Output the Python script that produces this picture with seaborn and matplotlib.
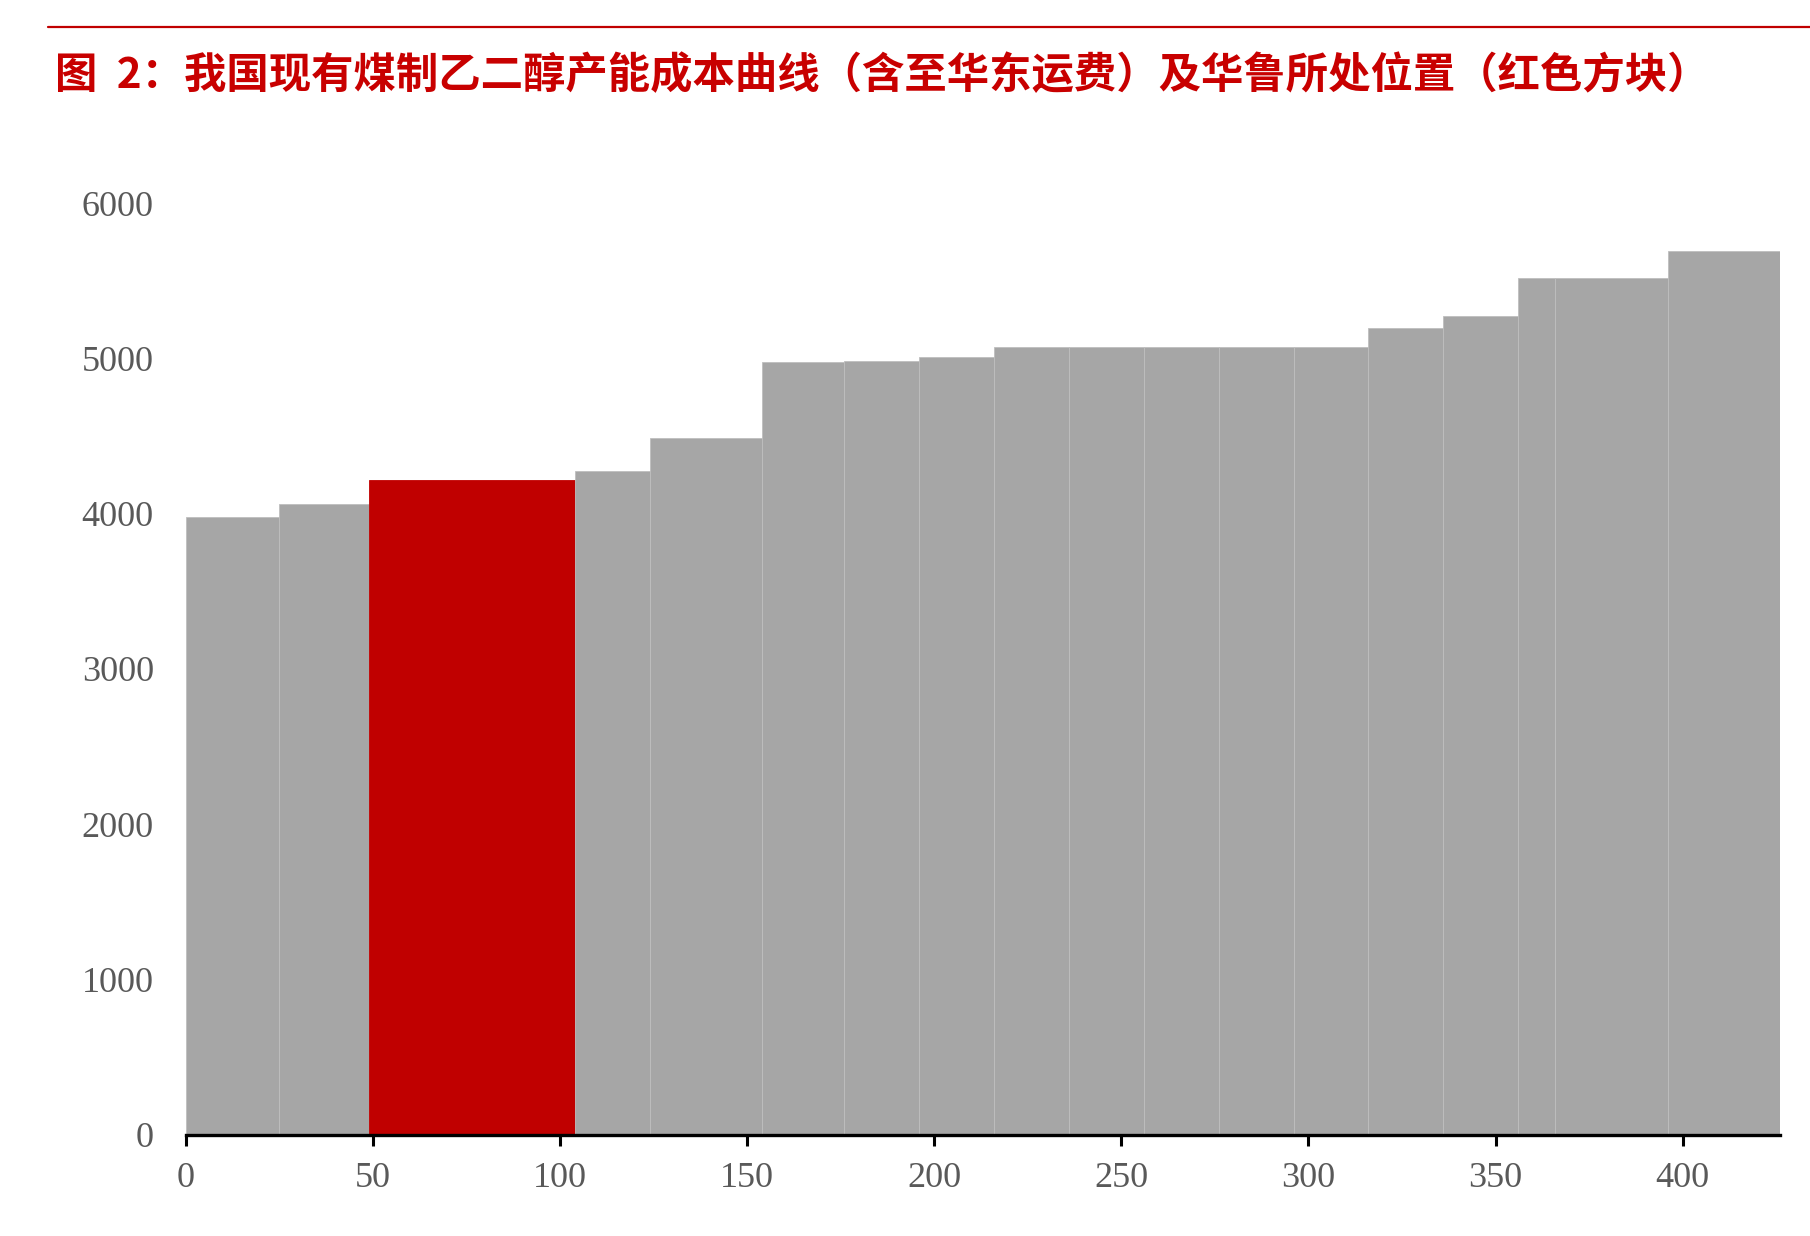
import numpy as np
import pandas as pd
import matplotlib
matplotlib.use("Agg")
import matplotlib.pyplot as plt
import seaborn as sns

# ---- data ----
capacity = [25, 24, 55, 20, 30, 22, 20, 20, 20, 20, 20, 20, 20, 20, 20, 10, 30, 30]  # 万吨
cost = [3980, 4060, 4220, 4275, 4490, 4975, 4985, 5010, 5075, 5075, 5075, 5075, 5075,
        5195, 5275, 5520, 5520, 5695]
highlight_index = 2  # 华鲁
x_ticks = [0, 50, 100, 150, 200, 250, 300, 350, 400]
y_ticks = [0, 1000, 2000, 3000, 4000, 5000, 6000]
title = "图  2：我国现有煤制乙二醇产能成本曲线（含至华东运费）及华鲁所处位置（红色方块）"

edges = [0.0] + [float(v) for v in np.cumsum(capacity)]
mids = [(edges[i] + edges[i + 1]) / 2 for i in range(len(capacity))]
df = pd.DataFrame({"mid": mids, "cost": cost})

sns.set_theme(style="white")
plt.rcParams["font.family"] = ["Noto Sans CJK SC", "DejaVu Sans"]

fig = plt.figure(figsize=(18.1, 12.36), dpi=100)
ax = fig.add_axes([185.8 / 1810, 1 - 1134.7 / 1236, (1780 - 185.8) / 1810, (1134.7 - 203.2) / 1236])

sns.histplot(data=df, x="mid", weights="cost", bins=edges, ax=ax,
             color="#A6A6A6", alpha=1, edgecolor="#BEBEBE", linewidth=0.6)
ax.patches[highlight_index].set_facecolor("#C00000")
ax.patches[highlight_index].set_edgecolor("#C00000")

ax.set_xlim(0, edges[-1])
ax.set_ylim(0, 6000)
ax.set_xticks(x_ticks)
ax.set_yticks(y_ticks)
ax.set_xticklabels([str(v) for v in x_ticks])
ax.set_yticklabels([str(v) for v in y_ticks])
ax.set_xlabel("")
ax.set_ylabel("")
for lab in ax.get_xticklabels() + ax.get_yticklabels():
    lab.set_fontfamily("Liberation Serif")
    lab.set_fontsize(26)
    lab.set_color("#595959")

for s in ["left", "top", "right"]:
    ax.spines[s].set_visible(False)
ax.spines["bottom"].set_color("black")
ax.spines["bottom"].set_linewidth(2.4)
ax.tick_params(axis="x", direction="out", length=8, width=2.2, color="black", pad=12, bottom=True)
ax.tick_params(axis="y", length=0, pad=23)
ax.grid(False)

# top red rule and title
fig.add_artist(plt.Line2D([48 / 1810, 1.0], [1 - 27 / 1236, 1 - 27 / 1236],
                          color="#C00000", linewidth=1.6, transform=fig.transFigure))
fig.text(55 / 1810, 1 - 76.5 / 1236, title, color="#C80000", fontsize=30.5,
         fontweight="bold", ha="left", va="center",
         family=["Noto Sans CJK SC", "DejaVu Sans"])

fig.savefig("out.png", dpi=100)
